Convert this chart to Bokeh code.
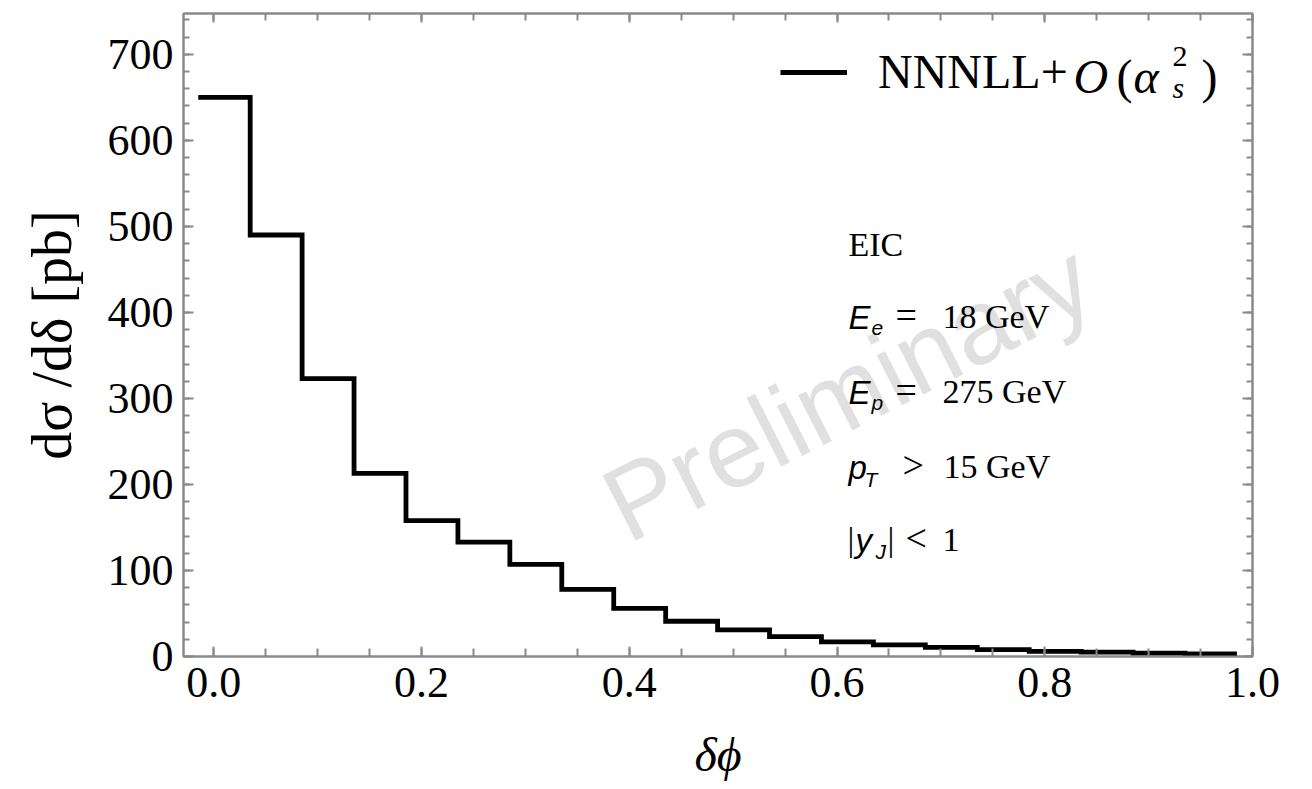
import math
from bokeh.plotting import figure
from bokeh.models import Range1d, LinearAxis, FixedTicker, Label, Legend, LegendItem
from bokeh.embed import file_html
from bokeh.resources import INLINE

# ---------------- data ----------------
bin_edges = [-0.015, 0.035, 0.085, 0.135, 0.185, 0.235, 0.285, 0.335, 0.385, 0.435,
             0.485, 0.535, 0.585, 0.635, 0.685, 0.735, 0.785, 0.835, 0.885, 0.935, 0.985]
xsec = [650, 490, 323, 213, 158, 133, 107, 78, 56, 41,
        31, 23, 17, 13.5, 10.5, 8, 6, 5, 4, 3]
x_ticks = [0.0, 0.2, 0.4, 0.6, 0.8, 1.0]
x_tick_labels = ["0.0", "0.2", "0.4", "0.6", "0.8", "1.0"]
y_ticks = [0, 100, 200, 300, 400, 500, 600, 700]
y_tick_labels = ["0", "100", "200", "300", "400", "500", "600", "700"]
x_title = "δϕ"
y_title = "dσ /dδ [pb]"
legend_label = "NNNLL+"
info_lines = ["EIC", "18 GeV", "275 GeV", "15 GeV", "1"]
page_number = "11"

XMIN, XMAX = -0.0292, 1.0
YMIN, YMAX = 0.0, 747.5

# frame geometry (pixels in the 1312x789 page)
FX0, FX1, FY0, FY1 = 183, 1252, 13, 656


def dx(px):
    return XMIN + (px - FX0) / (FX1 - FX0) * (XMAX - XMIN)


def dy(py):
    return YMIN + (FY1 - py) / (FY1 - FY0) * (YMAX - YMIN)


GRAY = "#8a8a8a"
SERIF = "Liberation Serif"
SANS = "Liberation Sans"

p = figure(width=1312, height=789,
           x_range=Range1d(XMIN, XMAX), y_range=Range1d(YMIN, YMAX),
           output_backend="svg", toolbar_location=None,
           min_border_left=FX0, min_border_right=1312 - FX1,
           min_border_top=FY0, min_border_bottom=789 - FY1,
           background_fill_color="white", border_fill_color="white")
p.grid.visible = False
p.outline_line_color = GRAY
p.outline_line_width = 2

x_minor = [round(0.05 * k, 2) for k in range(0, 21)]
y_minor = [20 * k for k in range(0, 38)]
xt = FixedTicker(ticks=x_ticks, minor_ticks=x_minor)
yt = FixedTicker(ticks=y_ticks, minor_ticks=y_minor)


def style_axis(ax, show_labels):
    ax.axis_line_color = GRAY
    ax.axis_line_width = 2
    ax.major_tick_line_color = GRAY
    ax.major_tick_line_width = 2
    ax.minor_tick_line_color = GRAY
    ax.minor_tick_line_width = 2
    ax.major_tick_out = 0
    ax.minor_tick_out = 0
    ax.major_label_text_font = SERIF
    ax.major_label_text_color = "black"
    if not show_labels:
        ax.major_label_overrides = {t: "" for t in (x_ticks + y_ticks)}
        ax.major_label_text_font_size = "10px"
        ax.major_label_standoff = 0


xb = p.xaxis[0]
xb.ticker = xt
xb.major_label_overrides = {t: l for t, l in zip(x_ticks, x_tick_labels)}
style_axis(xb, True)
xb.major_tick_in = 10
xb.minor_tick_in = 8
xb.major_label_text_font_size = "44px"
xb.major_label_standoff = 11
xb.axis_label = x_title
xb.axis_label_text_font = SERIF
xb.axis_label_text_font_style = "italic"
xb.axis_label_text_font_size = "48px"
xb.axis_label_standoff = 28
xb.axis_label_text_color = "black"

yl = p.yaxis[0]
yl.ticker = yt
yl.major_label_overrides = {t: l for t, l in zip(y_ticks, y_tick_labels)}
style_axis(yl, True)
yl.major_tick_in = 10
yl.minor_tick_in = 6
yl.major_label_text_font_size = "44px"
yl.major_label_standoff = 10
yl.axis_label = y_title
yl.axis_label_text_font = SERIF
yl.axis_label_text_font_style = "normal"
yl.axis_label_text_font_size = "56px"
yl.axis_label_standoff = 22
yl.axis_label_text_color = "black"

ax_top = LinearAxis(ticker=xt)
style_axis(ax_top, False)
ax_top.major_tick_in = 9
ax_top.minor_tick_in = 7
p.add_layout(ax_top, "above")

ax_right = LinearAxis(ticker=yt)
style_axis(ax_right, False)
ax_right.major_tick_in = 10
ax_right.minor_tick_in = 6
p.add_layout(ax_right, "right")

# watermark
p.add_layout(Label(text="Preliminary", x=dx(847), y=dy(391), angle=0.47,
                   text_font=SANS, text_font_size="106px", text_color="#e0e0e0",
                   text_align="center", text_baseline="middle"))

# step histogram
xs = list(bin_edges)
ys = list(xsec) + [xsec[-1]]
step_r = p.step(x=xs, y=ys, mode="after", line_width=4.8, line_color="black",
                line_join="miter")

# legend
legend = Legend(items=[LegendItem(label=legend_label, renderers=[step_r])],
                location=(780 - FX0, (FY1 - FY0) - (79 - FY0) - 20),
                glyph_width=67, glyph_height=40, label_height=40,
                label_standoff=31, padding=0, margin=0, spacing=0,
                border_line_alpha=0, background_fill_alpha=0,
                label_text_font=SERIF, label_text_font_size="48px",
                label_text_color="black")
p.add_layout(legend)

# page number fragment at the bottom-left corner of the page
page_box = Legend(items=[LegendItem(label=page_number, renderers=[step_r])],
                  location=(1 - FX0, FY1 - 793),
                  glyph_width=0, glyph_height=30, label_height=30,
                  label_standoff=0, padding=0, margin=0, spacing=0,
                  border_line_alpha=0, background_fill_alpha=0,
                  label_text_font=SANS, label_text_font_size="28px",
                  label_text_color="black")
p.add_layout(page_box)


def lab(text, px, py, font=SERIF, size=32, style="normal", align="left"):
    # py is the wanted baseline; the renderer puts the baseline ~0.4 em lower
    p.add_layout(Label(text=text, x=dx(px), y=dy(py - 0.4 * size), text_font=font,
                       text_font_size="%dpx" % size, text_font_style=style,
                       text_color="black", text_align=align,
                       text_baseline="alphabetic"))


# rest of legend text: O(α_s^2)
lab("O", 1073, 95, size=48, style="italic")
lab("(", 1116, 95, size=48)
lab("α", 1133, 95, size=48, style="italic")
lab("2", 1172, 68, size=30)
lab("s", 1172, 99, size=30, style="italic")
lab(")", 1201, 95, size=48)

# info block
lab(info_lines[0], 848, 258, size=34)
lab("E", 848, 330, font=SANS, size=33, style="italic")
lab("e", 871, 336, font=SANS, size=21, style="italic")
lab("=", 895, 330, size=38)
lab(info_lines[1], 942, 330, size=34)
lab("E", 848, 405, font=SANS, size=33, style="italic")
lab("p", 871, 410, font=SANS, size=21, style="italic")
lab("=", 895, 405, size=38)
lab(info_lines[2], 942, 405, size=34)
lab("p", 848, 480, font=SANS, size=33, style="italic")
lab("T", 864, 487, font=SANS, size=21, style="italic")
lab(">", 902, 480, size=38)
lab(info_lines[3], 943, 480, size=34)
lab("|", 847, 553, size=34)
lab("y", 855, 553, font=SANS, size=33, style="italic")
lab("J", 875, 559, font=SANS, size=21, style="italic")
lab("|", 887, 553, size=34)
lab("<", 905, 553, size=38)
lab(info_lines[4], 942, 553, size=34)

open("out.html", "w").write(file_html(p, INLINE))
